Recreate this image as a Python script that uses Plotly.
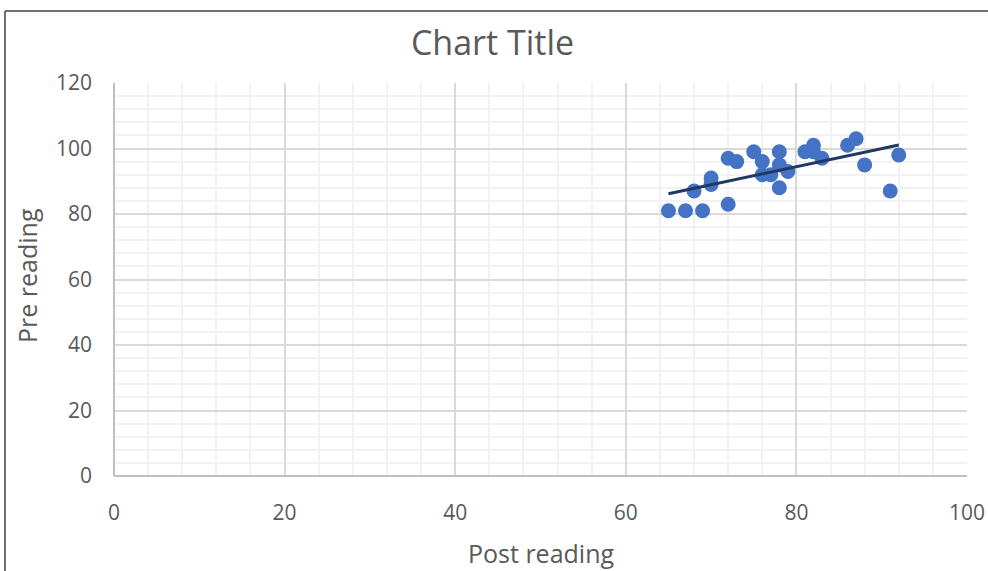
import numpy as np
import plotly.graph_objects as go

post_reading = [65, 67, 69, 68, 70, 70, 72, 72, 73, 75, 76, 76, 77, 78, 78, 78, 79, 81, 82, 82, 83, 86, 87, 88, 91, 92]
pre_reading = [81, 81, 81, 87, 91, 89, 83, 97, 96, 99, 96, 92, 92, 99, 95, 88, 93, 99, 101, 99, 97, 101, 103, 95, 87, 98]

x_ticks = [0, 20, 40, 60, 80, 100]
y_ticks = [0, 20, 40, 60, 80, 100, 120]

slope, intercept = np.polyfit(post_reading, pre_reading, 1)
tx = [min(post_reading), max(post_reading)]
ty = [slope * v + intercept for v in tx]

fig = go.Figure()
fig.add_trace(go.Scatter(x=post_reading, y=pre_reading, mode="markers",
                         marker=dict(color="#4472C4", size=15), showlegend=False))
fig.add_trace(go.Scatter(x=tx, y=ty, mode="lines",
                         line=dict(color="#203864", width=3), showlegend=False))

font_fam = "Open Sans, Liberation Sans, sans-serif"
grey = "#595959"
fig.update_layout(
    width=988, height=571,
    margin=dict(l=114, r=21, t=83, b=95, autoexpand=False),
    paper_bgcolor="white", plot_bgcolor="white",
    font=dict(family=font_fam, color=grey, size=21),
    title=dict(text="Chart Title", x=0.4985, xanchor="center", y=0.9247, yanchor="middle",
               font=dict(size=34, color=grey, family=font_fam)),
    xaxis=dict(range=[0, 100], tickvals=x_ticks, ticks="", showline=False,
               gridcolor="#D9D9D9", gridwidth=1.5, zeroline=True, zerolinecolor="#BFBFBF",
               zerolinewidth=2, ticklabelstandoff=22, automargin=False,
               minor=dict(dtick=4, showgrid=True, gridcolor="#F2F2F2", gridwidth=1.5),
               tickfont=dict(size=21, color=grey)),
    yaxis=dict(range=[0, 120], tickvals=y_ticks, ticks="", showline=False,
               gridcolor="#D9D9D9", gridwidth=1.5, zeroline=True, zerolinecolor="#BFBFBF",
               zerolinewidth=2, ticklabelstandoff=21, automargin=False,
               minor=dict(dtick=4, showgrid=True, gridcolor="#F2F2F2", gridwidth=1.5),
               tickfont=dict(size=21, color=grey)),
    annotations=[
        dict(text="Post reading", xref="paper", yref="paper", x=0.5, y=-0.196,
             xanchor="center", yanchor="middle", showarrow=False,
             font=dict(size=25, color=grey, family=font_fam)),
        dict(text="Pre reading", xref="paper", yref="paper", x=-0.102, y=0.5115,
             xanchor="center", yanchor="middle", showarrow=False, textangle=-90,
             font=dict(size=25, color=grey, family=font_fam)),
    ],
    shapes=[
        dict(type="line", xref="paper", yref="paper", x0=-0.1278, x1=1.05, y0=1.183, y1=1.183,
             line=dict(color="#404040", width=1.5)),
        dict(type="line", xref="paper", yref="paper", x0=-0.1278, x1=-0.1278, y0=1.183, y1=-0.25,
             line=dict(color="#404040", width=1.5)),
    ],
)

fig.write_html("out.html", config={"displayModeBar": False},
               post_script="document.body.style.margin='0';")
